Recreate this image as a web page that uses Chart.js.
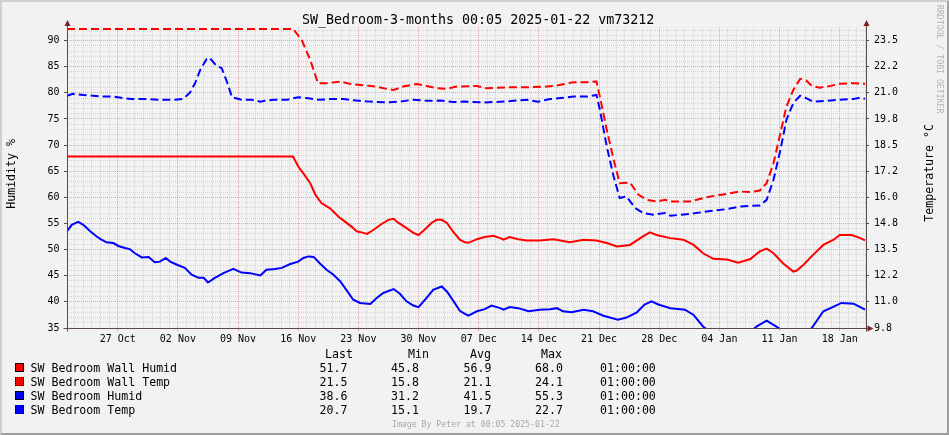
<!DOCTYPE html>
<html>
<head>
<meta charset="utf-8">
<script src="https://cdn.jsdelivr.net/npm/chart.js@4.4.1/dist/chart.umd.min.js"></script>
<style>
  html, body { margin: 0; padding: 0; background: #F2F2F2; }
  #wrap { position: relative; width: 949px; height: 435px; background: #F2F2F2; overflow: hidden; }
  #chart { position: absolute; left: 0; top: 0; }
  .t { position: absolute; font-family: 'DejaVu Sans Mono', monospace; color: #000; white-space: pre; }
  .leg { font-size: 11.6px; line-height: 14px; }
  .box { position: absolute; width: 7px; height: 7px; border: 1px solid #000; }
  .box.dash { border-style: dotted; }
  #frame { position: absolute; left: 0; top: 0; width: 949px; height: 435px; box-sizing: border-box;
           border: 2px solid; border-color: #CFCFCF #9E9E9E #9E9E9E #CFCFCF; pointer-events: none; }
</style>
</head>
<body>
<div id="wrap">
  <canvas id="chart" width="949" height="435"></canvas>
  <div class="t" id="title" style="left:302px;top:11px;font-size:13.3px;line-height:17px;">SW_Bedroom-3-months 00:05 2025-01-22 vm73212</div>
  <div class="t leg" style="left:4px;top:139px;writing-mode:vertical-rl;transform:rotate(180deg);">Humidity %</div>
  <div class="t leg" style="left:922px;top:124px;writing-mode:vertical-rl;transform:rotate(180deg);">Temperature °C</div>
  <div class="t" style="left:935px;top:5px;font-size:8.2px;line-height:10px;color:#B4B4B4;writing-mode:vertical-rl;">RRDTOOL / TOBI OETIKER</div>
  <div id="legend"></div>
  <div class="t" style="left:392px;top:419px;font-size:8.2px;line-height:10px;color:#A8A8A8;">Image By Peter at 00:05 2025-01-22</div>
  <div id="frame"></div>
</div>
<script>
// x values are days relative to the "27 Oct" grid line
const xTickLabels = ['27 Oct', '02 Nov', '09 Nov', '16 Nov', '23 Nov', '30 Nov', '07 Dec',
                     '14 Dec', '21 Dec', '28 Dec', '04 Jan', '11 Jan', '18 Jan'];
const tempTickValues = [9.75, 11, 12.25, 13.5, 14.75, 16, 17.25, 18.5, 19.75, 21, 22.25, 23.5];
const tempTickLabels = ['9.8', '11.0', '12.2', '13.5', '14.8', '16.0', '17.2', '18.5', '19.8', '21.0', '22.2', '23.5'];

// SW Bedroom Wall Humid (%)
const wallHumidDays = [-5.9, 20.4, 21.0, 21.6, 22.4, 23.0, 23.7, 24.7, 25.7, 26.4, 27.2, 27.8, 28.6, 29.0, 29.7,
  30.7, 31.5, 32.1, 32.6, 33.6, 34.4, 35.0, 35.7, 36.5, 37.1, 37.7, 38.3, 39.0, 39.8, 40.4, 40.8, 41.8, 42.7,
  43.7, 44.5, 44.9, 45.6, 46.6, 47.6, 49.1, 50.7, 51.5, 52.6, 54.2, 55.7, 56.9, 58.1, 59.6, 60.8, 61.9, 62.7,
  63.7, 64.3, 65.8, 67.0, 68.1, 69.3, 70.9, 72.2, 73.6, 74.7, 75.5, 76.3, 77.4, 78.6, 79.0, 79.8, 80.9, 82.1,
  83.3, 84.0, 85.4, 86.4, 86.95];
const wallHumidVals = [67.8, 67.8, 65.9, 64.6, 62.7, 60.5, 58.9, 57.9, 56.3, 55.4, 54.4, 53.5, 53.2, 53.0, 53.7,
  54.9, 55.7, 55.9, 55.2, 54.1, 53.2, 52.8, 53.8, 55.1, 55.7, 55.7, 55.1, 53.5, 51.9, 51.4, 51.3, 52.0, 52.4,
  52.65, 52.2, 51.9, 52.4, 52.0, 51.75, 51.75, 52.0, 51.75, 51.4, 51.9, 51.75, 51.25, 50.6, 50.9, 52.2, 53.3, 52.8,
  52.4, 52.2, 51.9, 50.9, 49.3, 48.25, 48.1, 47.5, 48.2, 49.65, 50.2, 49.3, 47.4, 45.8, 46.0, 47.1, 49.0, 50.9,
  51.9, 52.8, 52.8, 52.2, 51.75];

// SW Bedroom Wall Temp (°C)
const wallTempDays = [-5.9, 20.4, 21.4, 22.4, 23.3, 24.3, 25.9, 27.0, 28.2, 30.1, 31.3, 32.1, 33.2, 34.8, 35.95,
  37.1, 38.3, 39.4, 39.8, 41.8, 42.9, 45.6, 47.6, 49.9, 51.1, 53.0, 54.6, 55.7, 56.1, 56.9, 57.7, 58.4, 59.6,
  60.6, 61.55, 62.7, 63.7, 64.3, 66.6, 68.5, 70.9, 72.4, 73.6, 74.7, 75.5, 76.3, 77.1, 77.8, 78.6, 79.4, 80.1,
  80.75, 81.7, 82.9, 84.0, 85.6, 86.95];
const wallTempVals = [24.06, 24.06, 23.53, 22.58, 21.46, 21.46, 21.54, 21.43, 21.38, 21.3, 21.19, 21.14, 21.3, 21.42, 21.33,
  21.22, 21.19, 21.3, 21.3, 21.33, 21.22, 21.27, 21.27, 21.3, 21.35, 21.51, 21.51, 21.54, 20.82, 19.23, 17.8, 16.68, 16.71,
  16.12, 15.88, 15.8, 15.88, 15.8, 15.8, 16.01, 16.17, 16.28, 16.25, 16.33, 16.68, 17.64, 19.07, 20.34, 21.14, 21.67, 21.59,
  21.33, 21.25, 21.33, 21.43, 21.46, 21.43];

// SW Bedroom Humid (%)
const humidDays = [-5.9, -5.35, -4.6, -4.0, -3.2, -2.45, -1.9, -1.3, -0.5, 0.07, 0.85, 1.4, 2.0, 2.8, 3.6, 4.3,
  4.9, 5.6, 6.1, 6.9, 7.8, 8.6, 9.4, 10.0, 10.5, 11.3, 12.3, 13.45, 14.4, 15.4, 16.6, 17.3, 18.3, 19.1, 20.0,
  21.0, 21.6, 22.2, 22.8, 23.5, 24.3, 25.1, 25.9, 26.6, 27.4, 28.2, 29.4, 30.1, 30.9, 32.1, 32.8, 33.6, 34.4,
  35.0, 35.75, 36.7, 37.7, 38.3, 39.2, 39.8, 40.4, 40.8, 41.8, 42.7, 43.5, 44.5, 44.9, 45.6, 46.6, 47.8, 49.1,
  50.3, 51.1, 51.8, 52.8, 54.2, 55.3, 56.5, 58.2, 59.2, 60.4, 61.3, 62.1, 62.9, 64.3, 66.0, 67.0, 68.1, 69.5,
  71.0, 72.5, 73.6, 74.35, 75.5, 76.3, 76.9, 77.8, 78.7, 79.8, 80.75, 82.1, 83.3, 84.2, 85.6, 86.4, 86.95];
const humidVals = [53.5, 54.75, 55.3, 54.75, 53.5, 52.5, 51.9, 51.4, 51.25, 50.7, 50.3, 50.1, 49.3, 48.5, 48.6, 47.6,
  47.7, 48.4, 47.7, 47.1, 46.5, 45.2, 44.6, 44.6, 43.7, 44.6, 45.5, 46.3, 45.6, 45.5, 45.05, 46.15, 46.3, 46.5, 47.2,
  47.7, 48.4, 48.7, 48.6, 47.4, 46.15, 45.2, 43.9, 42.3, 40.4, 39.8, 39.6, 40.7, 41.7, 42.45, 41.6, 40.1, 39.3,
  39.0, 40.4, 42.3, 42.95, 42.0, 39.8, 38.3, 37.7, 37.35, 38.2, 38.6, 39.3, 38.8, 38.5, 39.0, 38.8, 38.2, 38.5,
  38.6, 38.8, 38.2, 38.0, 38.5, 38.2, 37.35, 36.6, 37.0, 38.0, 39.5, 40.1, 39.5, 38.8, 38.5, 37.5, 35.3, 33.5,
  32.8, 33.2, 34.3, 35.3, 36.4, 35.6, 35.0, 33.2, 31.2, 32.4, 35.0, 38.2, 39.1, 39.8, 39.65, 39.0, 38.5];

// SW Bedroom Temp (°C)
const tempDays = [-5.9, -5.2, -4.0, -2.85, -1.7, -0.5, 0.65, 1.6, 3.4, 4.9, 6.5, 7.6, 8.4, 9.0, 9.6, 10.35,
  10.6, 10.9, 11.5, 12.1, 12.7, 13.3, 14.4, 15.6, 16.6, 17.1, 18.1, 19.7, 21.0, 22.0, 23.3, 24.7, 26.25, 27.8,
  29.35, 31.3, 32.8, 34.4, 35.95, 37.5, 39.0, 40.4, 42.5, 44.9, 47.6, 48.9, 50.3, 51.5, 53.0, 54.6, 55.7, 56.1,
  56.9, 57.7, 58.4, 59.2, 60.2, 61.15, 62.3, 63.7, 64.3, 66.6, 68.5, 70.9, 72.4, 73.6, 74.7, 75.5, 76.3, 77.1,
  77.8, 78.6, 79.4, 80.1, 80.9, 82.5, 84.0, 85.6, 86.4, 86.95];
const tempVals = [20.86, 20.95, 20.9, 20.86, 20.82, 20.82, 20.75, 20.7, 20.7, 20.67, 20.67, 20.71, 21.01, 21.46, 22.1, 22.62,
  22.68, 22.58, 22.29, 22.18, 21.54, 20.79, 20.67, 20.67, 20.58, 20.62, 20.67, 20.67, 20.79, 20.75, 20.67, 20.7, 20.7, 20.63,
  20.58, 20.54, 20.58, 20.67, 20.62, 20.63, 20.56, 20.58, 20.54, 20.58, 20.67, 20.58, 20.7, 20.75, 20.82, 20.82, 20.9, 20.19,
  18.43, 17.0, 15.97, 16.04, 15.49, 15.25, 15.17, 15.25, 15.12, 15.21, 15.32, 15.44, 15.56, 15.6, 15.61, 15.88, 16.84, 18.27,
  19.71, 20.51, 20.86, 20.75, 20.58, 20.62, 20.67, 20.71, 20.77, 20.71];

// legend table
const legendNames = ['SW Bedroom Wall Humid', 'SW Bedroom Wall Temp', 'SW Bedroom Humid', 'SW Bedroom Temp'];
const legendColors = ['#FF0000', '#FF0000', '#0000FF', '#0000FF'];
const legendDashed = [false, true, false, true];
const lastVals = ['51.7', '21.5', '38.6', '20.7'];
const minVals = ['45.8', '15.8', '31.2', '15.1'];
const avgVals = ['56.9', '21.1', '41.5', '19.7'];
const maxVals = ['68.0', '24.1', '55.3', '22.7'];
const timeVals = ['01:00:00', '01:00:00', '01:00:00', '01:00:00'];

const FONT = "'DejaVu Sans Mono', monospace";
const MINOR = 'rgba(143,143,143,0.28)';
const MAJOR = 'rgba(222,79,79,0.45)';
const AXIS = '#5a4a4a';
const ARROW = '#7F1F1F';

function pts(days, vals) {
    return days.map((d, i) => ({ x: d, y: vals[i] }));
}

function range(a, b) {
    const out = [];
    for (let v = a; v <= b; v++) out.push(v);
    return out;
}

// build the legend block under the plot
function buildLegend() {
    const el = document.getElementById('legend');
    let html = '';
    const head = [['Last', 325], ['Min', 408], ['Avg', 470], ['Max', 541]];
    head.forEach(h => {
        html += '<div class="t leg" style="left:' + h[1] + 'px;top:347px;">' + h[0] + '</div>';
    });
    legendNames.forEach((name, i) => {
        const top = 361 + i * 14;
        html += '<div class="box' + (legendDashed[i] ? ' dash' : '') + '" style="left:15px;top:' + (top + 2) +
                'px;background:' + legendColors[i] + ';"></div>';
        html += '<div class="t leg" style="left:30.5px;top:' + top + 'px;">' + name + '</div>';
        html += '<div class="t leg" style="left:319.5px;top:' + top + 'px;">' + lastVals[i] + '</div>';
        html += '<div class="t leg" style="left:391px;top:' + top + 'px;">' + minVals[i] + '</div>';
        html += '<div class="t leg" style="left:463.5px;top:' + top + 'px;">' + avgVals[i] + '</div>';
        html += '<div class="t leg" style="left:535px;top:' + top + 'px;">' + maxVals[i] + '</div>';
        html += '<div class="t leg" style="left:600px;top:' + top + 'px;">' + timeVals[i] + '</div>';
    });
    el.innerHTML = html;
}

// axis lines and arrow heads, rrdtool style
const axisPlugin = {
    id: 'rrdAxes',
    afterDraw(chart) {
        const { ctx, chartArea: a } = chart;
        const l = Math.round(a.left) + 0.5, r = Math.round(a.right) + 0.5, b = Math.round(a.bottom) + 0.5;
        const t = Math.round(a.top);
        ctx.save();
        ctx.strokeStyle = AXIS;
        ctx.lineWidth = 1;
        ctx.beginPath();
        ctx.moveTo(l - 4, b); ctx.lineTo(r + 2, b);
        ctx.moveTo(l, b + 3); ctx.lineTo(l, t - 4);
        ctx.moveTo(r, b + 3); ctx.lineTo(r, t - 4);
        ctx.stroke();
        ctx.fillStyle = ARROW;
        [l, r].forEach(x => {
            ctx.beginPath();
            ctx.moveTo(x - 3, t - 1); ctx.lineTo(x + 3, t - 1); ctx.lineTo(x, t - 7);
            ctx.closePath(); ctx.fill();
        });
        ctx.beginPath();
        ctx.moveTo(r + 1, b - 3); ctx.lineTo(r + 1, b + 3); ctx.lineTo(r + 7, b);
        ctx.closePath(); ctx.fill();
        ctx.restore();
    }
};

const lineBase = { borderWidth: 2, pointRadius: 0, tension: 0, fill: false, clip: 0 };

new Chart(document.getElementById('chart'), {
    type: 'line',
    data: {
        datasets: [
            { ...lineBase, label: legendNames[0], data: pts(wallHumidDays, wallHumidVals), borderColor: '#FF0000', yAxisID: 'y', order: 4 },
            { ...lineBase, label: legendNames[1], data: pts(wallTempDays, wallTempVals), borderColor: '#FF0000', borderDash: [8, 4], yAxisID: 'y2', order: 3 },
            { ...lineBase, label: legendNames[2], data: pts(humidDays, humidVals), borderColor: '#0000FF', yAxisID: 'y', order: 2 },
            { ...lineBase, label: legendNames[3], data: pts(tempDays, tempVals), borderColor: '#0000FF', borderDash: [8, 4], yAxisID: 'y2', order: 1 }
        ]
    },
    options: {
        responsive: false,
        animation: false,
        devicePixelRatio: 1,
        events: [],
        layout: { padding: { top: 27, bottom: 87, left: 0, right: 0 } },
        plugins: {
            legend: { display: false },
            tooltip: { enabled: false },
            title: { display: false }
        },
        scales: {
            x: {
                type: 'linear',
                position: 'bottom',
                min: -5.9,
                max: 87.06,
                afterBuildTicks: s => { s.ticks = range(-5, 87).map(v => ({ value: v })); },
                afterFit: s => { s.height = 20; },
                grid: {
                    color: c => (c.tick && c.tick.value % 7 === 0) ? MAJOR : MINOR,
                    tickColor: c => (c.tick && c.tick.value % 7 === 0) ? MAJOR : 'rgba(0,0,0,0)',
                    tickLength: 3,
                    lineWidth: 1
                },
                border: { display: false, dash: [1, 1] },
                ticks: {
                    autoSkip: false,
                    maxRotation: 0,
                    padding: 2,
                    color: '#000',
                    font: { family: FONT, size: 10 },
                    callback: v => (v % 7 === 0) ? xTickLabels[v / 7] : ''
                }
            },
            y: {
                position: 'left',
                min: 35,
                max: 92.6,
                afterBuildTicks: s => { s.ticks = range(35, 92).map(v => ({ value: v })); },
                afterFit: s => { s.width = 67; },
                grid: {
                    color: c => (c.tick && c.tick.value % 5 === 0) ? MAJOR : MINOR,
                    tickColor: c => (c.tick && c.tick.value % 5 === 0) ? AXIS : 'rgba(0,0,0,0)',
                    tickLength: 3,
                    lineWidth: 1
                },
                border: { display: false, dash: [1, 1] },
                ticks: {
                    autoSkip: false,
                    padding: 4.5,
                    color: '#000',
                    font: { family: FONT, size: 10 },
                    callback: v => (v % 5 === 0) ? String(v) : ''
                }
            },
            y2: {
                position: 'right',
                min: 9.75,
                max: 24.15,
                afterBuildTicks: s => { s.ticks = tempTickValues.map(v => ({ value: v })); },
                afterFit: s => { s.width = 83; },
                grid: { drawOnChartArea: false, tickLength: 3, tickColor: AXIS },
                border: { display: false },
                ticks: {
                    autoSkip: false,
                    padding: 5,
                    color: '#000',
                    font: { family: FONT, size: 10 },
                    callback: (v, i) => tempTickLabels[i]
                }
            }
        }
    },
    plugins: [axisPlugin]
});

buildLegend();
</script>
</body>
</html>
